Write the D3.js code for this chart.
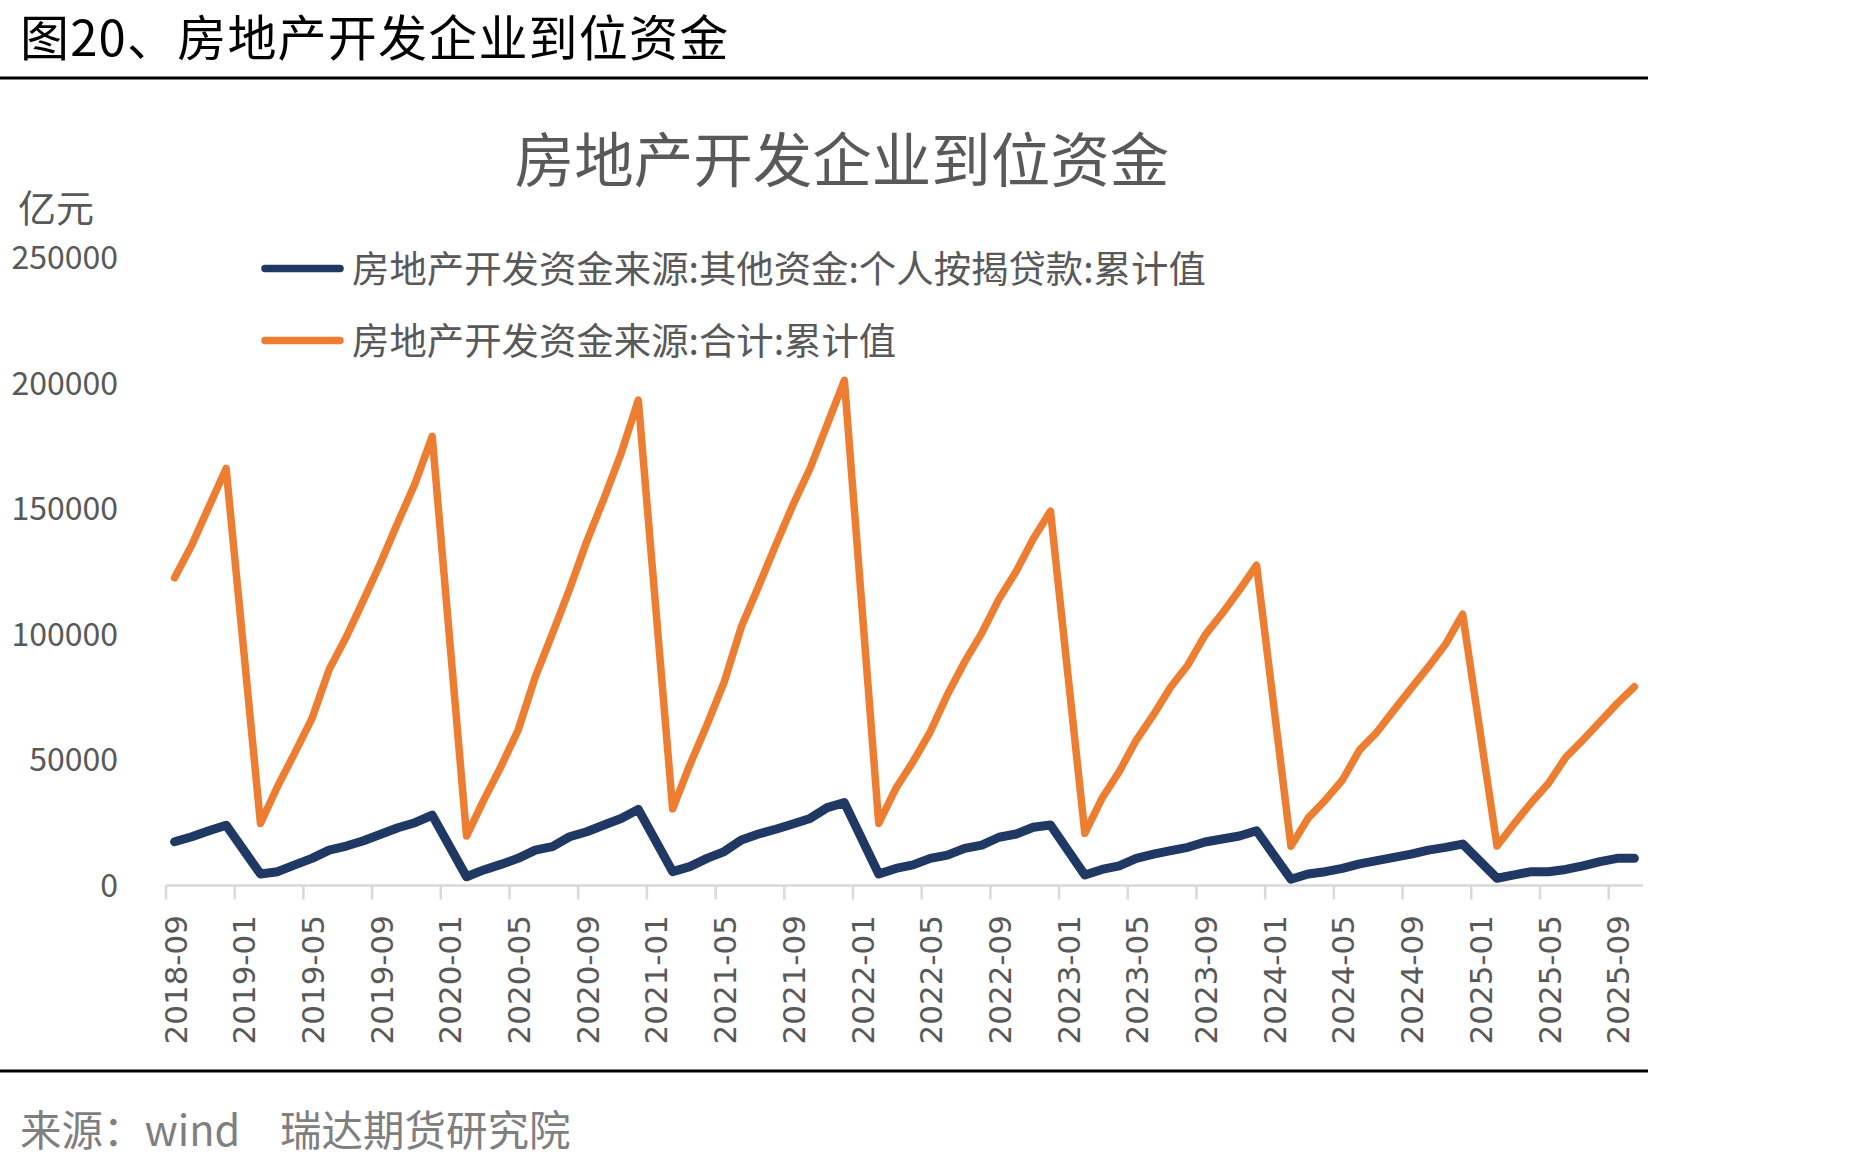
<!DOCTYPE html>
<html>
<head>
<meta charset="utf-8">
<script src="https://cdn.jsdelivr.net/npm/d3@7"></script>
<style>
html,body{margin:0;padding:0;background:#fff;}
svg{display:block;}
</style>
</head>
<body>
<svg id="chart" width="1855" height="1163"></svg>
<script>
const months = [
"2018-09","2018-10","2018-11","2018-12",
"2019-01","2019-02","2019-03","2019-04","2019-05","2019-06","2019-07","2019-08","2019-09","2019-10","2019-11","2019-12",
"2020-01","2020-02","2020-03","2020-04","2020-05","2020-06","2020-07","2020-08","2020-09","2020-10","2020-11","2020-12",
"2021-01","2021-02","2021-03","2021-04","2021-05","2021-06","2021-07","2021-08","2021-09","2021-10","2021-11","2021-12",
"2022-01","2022-02","2022-03","2022-04","2022-05","2022-06","2022-07","2022-08","2022-09","2022-10","2022-11","2022-12",
"2023-01","2023-02","2023-03","2023-04","2023-05","2023-06","2023-07","2023-08","2023-09","2023-10","2023-11","2023-12",
"2024-01","2024-02","2024-03","2024-04","2024-05","2024-06","2024-07","2024-08","2024-09","2024-10","2024-11","2024-12",
"2025-01","2025-02","2025-03","2025-04","2025-05","2025-06","2025-07","2025-08","2025-09","2025-10"
];

// 房地产开发资金来源:其他资金:个人按揭贷款:累计值 (亿元)
const mortgage = [
17400,19400,21800,24000,
null,4600,5500,8200,10800,14100,15700,17800,20400,23000,25000,28000,
null,3500,6200,8400,10800,14100,15500,19400,21400,24100,26700,30300,
null,5500,7500,10800,13500,18100,20500,22400,24500,26700,31000,33000,
null,4600,6800,8200,10800,12100,14800,16100,19200,20500,23200,24100,
null,4200,6400,7800,10800,12500,13900,15200,17300,18500,19700,21800,
null,2500,4600,5500,6800,8600,9900,11200,12500,14100,15200,16500,
null,2900,4200,5500,5500,6400,7800,9500,10800,10800
];

// 房地产开发资金来源:合计:累计值 (亿元)
const total = [
122500,135500,150800,166000,
null,24700,39500,52800,66500,86000,99000,113600,128500,144500,160000,178800,
null,19700,34000,47300,61800,83000,100300,118000,137000,154000,172000,193200,
null,30500,48000,64000,81000,103000,119000,135500,151400,166000,183500,201100,
null,24700,38700,49300,61200,76000,89000,100500,114000,125000,138000,149000,
null,20800,34700,45300,57900,68000,79000,87800,99700,108300,117600,127500,
null,15600,26800,34000,42000,54000,61000,69800,78500,87000,96000,108000,
null,15700,24600,33000,40700,51000,57900,65200,72500,79100
];

const xTickLabels = ["2018-09","2019-01","2019-05","2019-09","2020-01","2020-05","2020-09",
"2021-01","2021-05","2021-09","2022-01","2022-05","2022-09","2023-01","2023-05","2023-09",
"2024-01","2024-05","2024-09","2025-01","2025-05","2025-09"];
const yTicks = [0,50000,100000,150000,200000,250000];

const seriesNames = ["房地产开发资金来源:其他资金:个人按揭贷款:累计值","房地产开发资金来源:合计:累计值"];
const seriesColors = ["#203864","#ed7d31"];

const svg = d3.select("#chart");
const CJK = "'Noto Sans CJK SC','Noto Sans',sans-serif";

// header
svg.append("text").attr("x",20).attr("y",34).attr("dominant-baseline","central")
  .attr("font-family",CJK).attr("font-size",49).attr("letter-spacing",1.2).attr("fill","#000")
  .text("图20、房地产开发企业到位资金");
svg.append("line").attr("x1",0).attr("x2",1648).attr("y1",78).attr("y2",78)
  .attr("stroke","#000").attr("stroke-width",3);
svg.append("line").attr("x1",0).attr("x2",1648).attr("y1",1071).attr("y2",1071)
  .attr("stroke","#000").attr("stroke-width",3);

// chart title
svg.append("text").attr("x",842).attr("y",156).attr("text-anchor","middle").attr("dominant-baseline","central")
  .attr("font-family",CJK).attr("font-size",59.5).attr("fill","#595959")
  .text("房地产开发企业到位资金");
svg.append("text").attr("x",18).attr("y",205.5).attr("dominant-baseline","central")
  .attr("font-family",CJK).attr("font-size",38).attr("fill","#595959")
  .text("亿元");

// scales
const x = d3.scaleBand().domain(months).range([166,1643]).paddingInner(0).paddingOuter(0);
const y = d3.scaleLinear().domain([0,250000]).range([885.5,257.5]);
const bw = x.bandwidth();

// y labels
svg.append("g").selectAll("text").data(yTicks).join("text")
  .attr("x",118).attr("y",d=>y(d)-2.5).attr("text-anchor","end").attr("dominant-baseline","central")
  .attr("font-family",CJK).attr("font-size",32).attr("fill","#595959")
  .text(d=>d3.format("d")(d));

// x axis
const ax = svg.append("g");
ax.append("line").attr("x1",x.range()[0]).attr("x2",x.range()[1]).attr("y1",y(0)).attr("y2",y(0))
  .attr("stroke","#d9d9d9").attr("stroke-width",2.7);
ax.selectAll("line.tick").data(xTickLabels).join("line").attr("class","tick")
  .attr("x1",d=>x(d)).attr("x2",d=>x(d)).attr("y1",y(0)).attr("y2",y(0)+14)
  .attr("stroke","#d9d9d9").attr("stroke-width",2.5);
ax.selectAll("text").data(xTickLabels).join("text")
  .attr("transform",d=>`translate(${x(d)+bw/2+1},915) rotate(-90)`)
  .attr("text-anchor","end").attr("dominant-baseline","central")
  .attr("font-family","'DejaVu Sans',sans-serif").attr("font-size",31).attr("fill","#595959")
  .text(d=>d);

// lines
const line = d3.line().x(d=>x(d.m)+bw/2).y(d=>y(d.v));
const seriesData = [mortgage,total];
const widths = [9,7.5];
[1,0].forEach(si=>{
  const pts = months.map((m,i)=>({m:m,v:seriesData[si][i]})).filter(d=>d.v!=null);
  svg.append("path").datum(pts).attr("d",line).attr("fill","none")
    .attr("stroke",seriesColors[si]).attr("stroke-width",widths[si])
    .attr("stroke-linejoin","round").attr("stroke-linecap","round");
});

// legend
const legY = [268.5,340.5];
seriesNames.forEach((n,i)=>{
  svg.append("line").attr("x1",265).attr("x2",340).attr("y1",legY[i]).attr("y2",legY[i])
    .attr("stroke",seriesColors[i]).attr("stroke-width",7.5).attr("stroke-linecap","round");
  svg.append("text").attr("x",352).attr("y",legY[i]-2).attr("dominant-baseline","central")
    .attr("font-family",CJK).attr("font-size",37.4).attr("fill","#595959").text(n);
});

// source
svg.append("text").attr("x",20).attr("y",1128).attr("dominant-baseline","central")
  .attr("font-family",CJK).attr("font-size",41.5).attr("fill","#7f7f7f").text("来源：wind");
svg.append("text").attr("x",280).attr("y",1128).attr("dominant-baseline","central")
  .attr("font-family",CJK).attr("font-size",41.5).attr("fill","#7f7f7f").text("瑞达期货研究院");
</script>
</body>
</html>
